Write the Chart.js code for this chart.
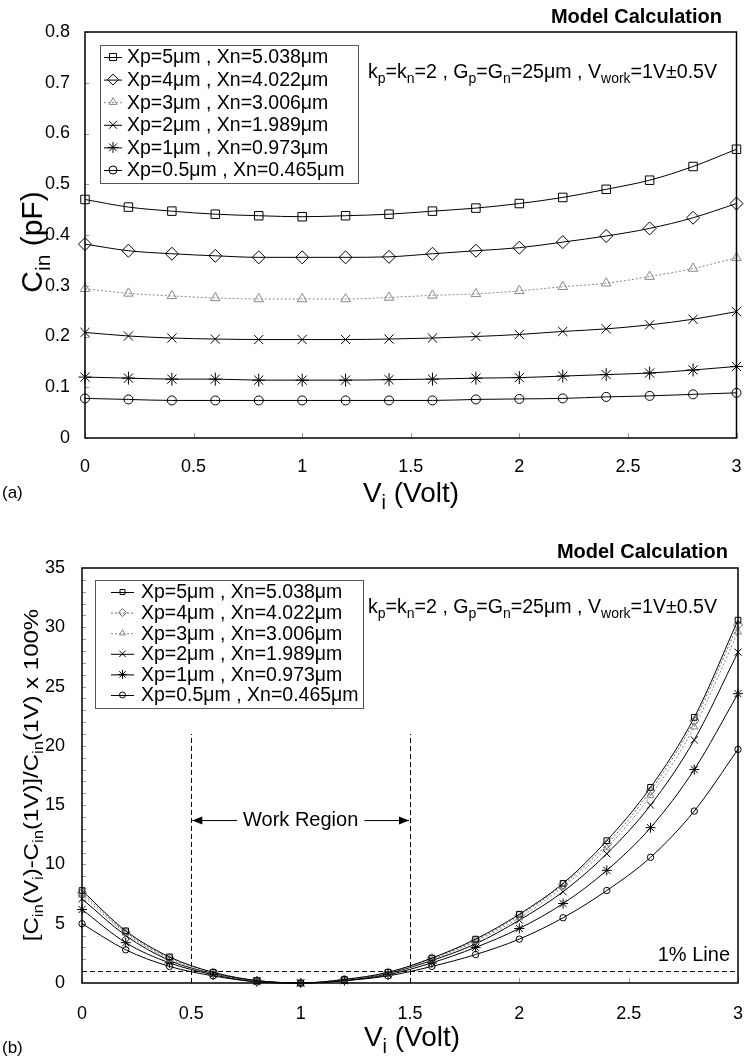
<!DOCTYPE html>
<html><head><meta charset="utf-8">
<script src="https://cdn.jsdelivr.net/npm/chart.js@4.4.0/dist/chart.umd.min.js"></script>
<style>
html,body{margin:0;padding:0;background:#fff;}
#wrap{position:relative;width:744px;height:1058px;overflow:hidden;}
canvas{position:absolute;left:0;}
</style></head><body>
<div id="wrap">
<canvas id="c1" width="744" height="510" style="top:0"></canvas>
<canvas id="c2" width="744" height="548" style="top:510px"></canvas>
</div>
<script>
// ---------- data ----------
const voltages = [0,0.2,0.4,0.6,0.8,1.0,1.2,1.4,1.6,1.8,2.0,2.2,2.4,2.6,2.8,3.0];
const seriesLabels = ['Xp=5μm , Xn=5.038μm','Xp=4μm , Xn=4.022μm','Xp=3μm , Xn=3.006μm','Xp=2μm , Xn=1.989μm','Xp=1μm , Xn=0.973μm','Xp=0.5μm , Xn=0.465μm'];
// (a) input capacitance, pF
const cinXp5   = [0.470,0.455,0.447,0.441,0.438,0.436,0.438,0.441,0.447,0.453,0.462,0.474,0.490,0.508,0.535,0.569];
const cinXp4   = [0.382,0.369,0.363,0.359,0.356,0.356,0.356,0.357,0.363,0.369,0.375,0.386,0.398,0.413,0.434,0.462];
const cinXp3   = [0.294,0.285,0.280,0.276,0.274,0.274,0.274,0.277,0.281,0.284,0.290,0.298,0.305,0.318,0.334,0.355];
const cinXp2   = [0.208,0.201,0.197,0.195,0.194,0.194,0.194,0.195,0.197,0.200,0.204,0.210,0.215,0.223,0.234,0.249];
const cinXp1   = [0.120,0.118,0.116,0.116,0.114,0.114,0.114,0.115,0.116,0.118,0.119,0.122,0.125,0.128,0.134,0.141];
const cinXp05  = [0.078,0.076,0.074,0.074,0.074,0.074,0.074,0.074,0.074,0.076,0.077,0.078,0.081,0.083,0.086,0.089];
// (b) relative variation, %
const pctXp5   = [7.8,4.4,2.2,0.9,0.2,0,0.3,0.9,2.1,3.7,5.8,8.4,12.0,16.5,22.4,30.6];
const pctXp4   = [7.6,4.3,2.1,0.9,0.2,0,0.3,0.9,2.1,3.6,5.7,8.3,11.7,16.2,22.1,30.2];
const pctXp3   = [7.4,4.2,2.0,0.8,0.2,0,0.3,0.8,2.0,3.5,5.5,8.1,11.4,15.8,21.6,29.6];
const pctXp2   = [7.1,4.0,1.9,0.8,0.2,0,0.2,0.8,1.9,3.3,5.3,7.7,10.9,15.0,20.5,27.9];
const pctXp1   = [6.2,3.4,1.7,0.7,0.1,0,0.2,0.7,1.7,3.0,4.6,6.7,9.5,13.1,18.0,24.4];
const pctXp05  = [5.0,2.8,1.4,0.6,0.1,0,0.2,0.6,1.4,2.4,3.7,5.5,7.8,10.6,14.5,19.7];
const xTickValues = [0,0.5,1,1.5,2,2.5,3];
const xTickLabels = ['0','0.5','1','1.5','2','2.5','3'];
const yTicksA = [0,0.1,0.2,0.3,0.4,0.5,0.6,0.7,0.8];
const yTickLabelsA = ['0','0.1','0.2','0.3','0.4','0.5','0.6','0.7','0.8'];
const yTicksB = [0,5,10,15,20,25,30,35];
const yTickLabelsB = ['0','5','10','15','20','25','30','35'];
const workRegion = [0.5,1.5];
const workRegionTop = 21;
const workArrowY = 13.7;
const onePercentLine = 1;

// ---------- styles ----------
const FAM = '"Liberation Sans", Arial, Helvetica, sans-serif';
const pointStyles = ['rect','rectRot','triangle','crossRot','star','circle'];
const radiiA = [6,6.5,5.5,6.5,6.5,4.5];
const radiiB = [4,4.5,4,5,5,3.2];
const colorsA = ['#000','#000','#888','#000','#000','#000'];
const dashA = [[],[],[2,2],[],[],[]];
const colorsB = ['#000','#666','#888','#000','#000','#000'];
const dashB = [[],[2,2],[2,2],[],[],[]];

function mkSets(arrs, radii, colors, dashes){
  return arrs.map((a,i)=>({
    label: seriesLabels[i],
    data: voltages.map((v,j)=>({x:v,y:a[j]})),
    borderColor: colors[i], borderWidth: 1, borderDash: dashes[i],
    pointStyle: pointStyles[i], pointRadius: radii[i],
    pointBorderColor: colors[i], pointBackgroundColor: 'rgba(0,0,0,0)', pointBorderWidth: 1,
    cubicInterpolationMode: 'monotone', clip: false, fill:false
  }));
}

function richWidth(ctx, parts, size){
  let w=0;
  for(const p of parts){ ctx.font = (p.s? Math.round(size*0.7): size)+'px '+FAM; w += ctx.measureText(p.t).width; }
  return w;
}
function drawRich(ctx, parts, x, y, size, align){
  const w = richWidth(ctx, parts, size);
  let cx = align==='center'? x-w/2 : (align==='right'? x-w : x);
  ctx.textBaseline='alphabetic'; ctx.textAlign='left'; ctx.fillStyle='#000';
  for(const p of parts){
    const fs = p.s? Math.round(size*0.7): size;
    ctx.font = fs+'px '+FAM;
    ctx.fillText(p.t, cx, y + (p.s? size*0.25:0));
    cx += ctx.measureText(p.t).width;
  }
}
function drawMarker(ctx, style, r, x, y, color){
  ctx.save();
  ctx.strokeStyle=color; ctx.fillStyle='rgba(0,0,0,0)'; ctx.lineWidth=1; ctx.setLineDash([]);
  Chart.helpers.drawPoint(ctx,{pointStyle:style, radius:r, rotation:0, borderWidth:1}, x, y);
  ctx.restore();
}

const annotParts = [{t:'k'},{t:'p',s:1},{t:'=k'},{t:'n',s:1},{t:'=2 , G'},{t:'p',s:1},{t:'=G'},{t:'n',s:1},{t:'=25μm , V'},{t:'work',s:1},{t:'=1V±0.5V'}];
const xTitleParts = [{t:'V'},{t:'i',s:1},{t:' (Volt)'}];
const yTitleA = [{t:'C'},{t:'in',s:1},{t:' (pF)'}];
const yTitleB = [{t:'[C'},{t:'in',s:1},{t:'(V'},{t:'i',s:1},{t:')-C'},{t:'in',s:1},{t:'(1V)]/C'},{t:'in',s:1},{t:'(1V) x 100%'}];

function decorPlugin(cfg){
  return {
    id:'decor'+cfg.name,
    beforeDatasetsDraw(chart){
      const ctx=chart.ctx, a=chart.chartArea, xs=chart.scales.x, ys=chart.scales.y;
      ctx.save();
      ctx.strokeStyle='#999'; ctx.lineWidth=1;
      ctx.beginPath();
      for(const v of xTickValues){ const px=Math.round(xs.getPixelForValue(v))+0.5; ctx.moveTo(px,a.bottom); ctx.lineTo(px,a.bottom-5); }
      for(const v of cfg.minorY){ const py=Math.round(ys.getPixelForValue(v))+0.5; ctx.moveTo(a.left,py); ctx.lineTo(a.left+cfg.minorLen,py); }
      ctx.stroke();
      if(cfg.extra) cfg.extra(chart);
      ctx.restore();
    },
    afterDraw(chart){
      const ctx=chart.ctx, a=chart.chartArea;
      ctx.save();
      ctx.strokeStyle='#000'; ctx.lineWidth=1.5; ctx.setLineDash([]);
      ctx.strokeRect(a.left, a.top, a.right-a.left, a.bottom-a.top);
      ctx.fillStyle='#000'; ctx.font='bold 20px '+FAM; ctx.textAlign='right'; ctx.textBaseline='middle';
      ctx.fillText('Model Calculation', cfg.headX, cfg.headY);
      const L=cfg.legend;
      ctx.strokeStyle='#555'; ctx.lineWidth=1;
      ctx.strokeRect(L.x+0.5, L.y+0.5, L.w, L.h);
      chart.data.datasets.forEach((d,i)=>{
        const cy = L.y + L.first + i*L.row;
        ctx.strokeStyle=d.borderColor; ctx.setLineDash(d.borderDash||[]); ctx.lineWidth=1;
        ctx.beginPath(); ctx.moveTo(L.l0, cy+0.5); ctx.lineTo(L.l1, cy+0.5); ctx.stroke();
        ctx.setLineDash([]);
        drawMarker(ctx, d.pointStyle, L.r[i], (L.l0+L.l1)/2, cy, d.pointBorderColor);
        ctx.fillStyle='#000'; ctx.font=L.font+'px '+FAM; ctx.textAlign='left'; ctx.textBaseline='middle';
        ctx.fillText(d.label, L.tx, cy+1);
      });
      drawRich(ctx, annotParts, cfg.annX, cfg.annY, cfg.annSize, 'left');
      drawRich(ctx, xTitleParts, cfg.xtX, cfg.xtY, cfg.xtSize, 'center');
      ctx.save(); ctx.translate(cfg.ytX, cfg.ytY); ctx.rotate(-Math.PI/2); ctx.scale(cfg.ytStretch||1,1);
      drawRich(ctx, cfg.yParts, 0, 0, cfg.ytSize, 'center');
      ctx.restore();
      ctx.fillStyle='#000'; ctx.font='17px '+FAM; ctx.textAlign='left'; ctx.textBaseline='middle';
      ctx.fillText(cfg.panel, 2, cfg.panelY);
      ctx.restore();
    }
  };
}

function baseOpts(p){
  return {
    responsive:false, animation:false, events:[],
    layout:{padding:p.padding},
    plugins:{legend:{display:false}, tooltip:{enabled:false}},
    scales:{
      x:{type:'linear', min:0, max:3,
        afterBuildTicks:s=>{s.ticks=xTickValues.map(v=>({value:v}));},
        ticks:{color:'#000', font:{family:FAM,size:18}, padding:p.xPad, maxRotation:0,
          callback:(v)=>xTickLabels[xTickValues.indexOf(v)]},
        grid:{display:false, drawTicks:false}, border:{display:false},
        afterFit:s=>{s.height=p.xH; s.paddingLeft=0; s.paddingRight=0;}},
      y:{type:'linear', min:p.ymin, max:p.ymax,
        afterBuildTicks:s=>{s.ticks=p.yTicks.map(v=>({value:v}));},
        ticks:{color:'#000', font:{family:FAM,size:18}, padding:p.yPad,
          callback:(v)=>p.yLabels[p.yTicks.indexOf(v)]},
        grid:{display:false, drawTicks:false}, border:{display:false},
        afterFit:s=>{s.width=p.yW; s.paddingTop=0; s.paddingBottom=0;}}
    }
  };
}

// ---- chart (a)
new Chart(document.getElementById('c1'), {
  type:'line',
  data:{datasets: mkSets([cinXp5,cinXp4,cinXp3,cinXp2,cinXp1,cinXp05], radiiA, colorsA, dashA)},
  options: baseOpts({padding:{top:32,right:6,left:0,bottom:0}, xPad:18, xH:72, ymin:0, ymax:0.8, yTicks:yTicksA, yLabels:yTickLabelsA, yPad:15, yW:85}),
  plugins:[decorPlugin({name:'a', minorY:yTicksA, minorLen:4,
    headX:722, headY:17,
    legend:{x:100,y:45,w:258,h:138,first:12,row:22.6,l0:104,l1:122,tx:127,font:19.5,r:[5,5.5,4.5,5.5,5.5,4]},
    annX:368, annY:78, annSize:19.6,
    xtX:411, xtY:502, xtSize:28,
    ytX:42, ytY:242, ytSize:30, yParts:yTitleA,
    panel:'(a)', panelY:493})]
});

// ---- chart (b)
const minorB=[]; for(let v=1; v<35; v++) minorB.push(v);
new Chart(document.getElementById('c2'), {
  type:'line',
  data:{datasets: mkSets([pctXp5,pctXp4,pctXp3,pctXp2,pctXp1,pctXp05], radiiB, colorsB, dashB)},
  options: baseOpts({padding:{top:58,right:2,left:0,bottom:0}, xPad:20, xH:75, ymin:0, ymax:35, yTicks:yTicksB, yLabels:yTickLabelsB, yPad:17, yW:82}),
  plugins:[decorPlugin({name:'b', minorY:minorB, minorLen:4,
    headX:728, headY:42,
    legend:{x:95,y:70,w:268,h:128,first:12,row:20.6,l0:111,l1:134,tx:141,font:19.5,r:[3.5,4,3.5,4.5,4.5,3]},
    annX:368, annY:103, annSize:19.6,
    xtX:412, xtY:536, xtSize:28,
    ytX:38, ytY:265, ytSize:20, ytStretch:1.2, yParts:yTitleB,
    panel:'(b)', panelY:538,
    extra:(chart)=>{
      const ctx=chart.ctx, a=chart.chartArea, xs=chart.scales.x, ys=chart.scales.y;
      ctx.strokeStyle='#000'; ctx.lineWidth=1; ctx.setLineDash([5,3]);
      ctx.beginPath();
      for(const v of workRegion){ const px=Math.round(xs.getPixelForValue(v))+0.5; ctx.moveTo(px,a.bottom); ctx.lineTo(px, ys.getPixelForValue(workRegionTop)); }
      const py1=Math.round(ys.getPixelForValue(onePercentLine))+0.5;
      ctx.moveTo(a.left,py1); ctx.lineTo(a.right,py1);
      ctx.stroke(); ctx.setLineDash([]);
      const yA=ys.getPixelForValue(workArrowY), xl=xs.getPixelForValue(workRegion[0]), xr=xs.getPixelForValue(workRegion[1]), xc=(xl+xr)/2;
      ctx.font='20px '+FAM; const tw=ctx.measureText('Work Region').width;
      ctx.fillStyle='#000'; ctx.textAlign='center'; ctx.textBaseline='middle';
      ctx.fillText('Work Region', xc, yA);
      ctx.beginPath(); ctx.moveTo(xl+1,yA); ctx.lineTo(xc-tw/2-6,yA); ctx.moveTo(xc+tw/2+6,yA); ctx.lineTo(xr-1,yA); ctx.stroke();
      ctx.beginPath(); ctx.moveTo(xl+1,yA); ctx.lineTo(xl+11,yA-4); ctx.lineTo(xl+11,yA+4); ctx.closePath(); ctx.fill();
      ctx.beginPath(); ctx.moveTo(xr-1,yA); ctx.lineTo(xr-11,yA-4); ctx.lineTo(xr-11,yA+4); ctx.closePath(); ctx.fill();
      ctx.textAlign='right'; ctx.textBaseline='alphabetic'; ctx.font='20px '+FAM;
      ctx.fillText('1% Line', a.right-8, py1-11);
    }})]
});
</script>
</body></html>
